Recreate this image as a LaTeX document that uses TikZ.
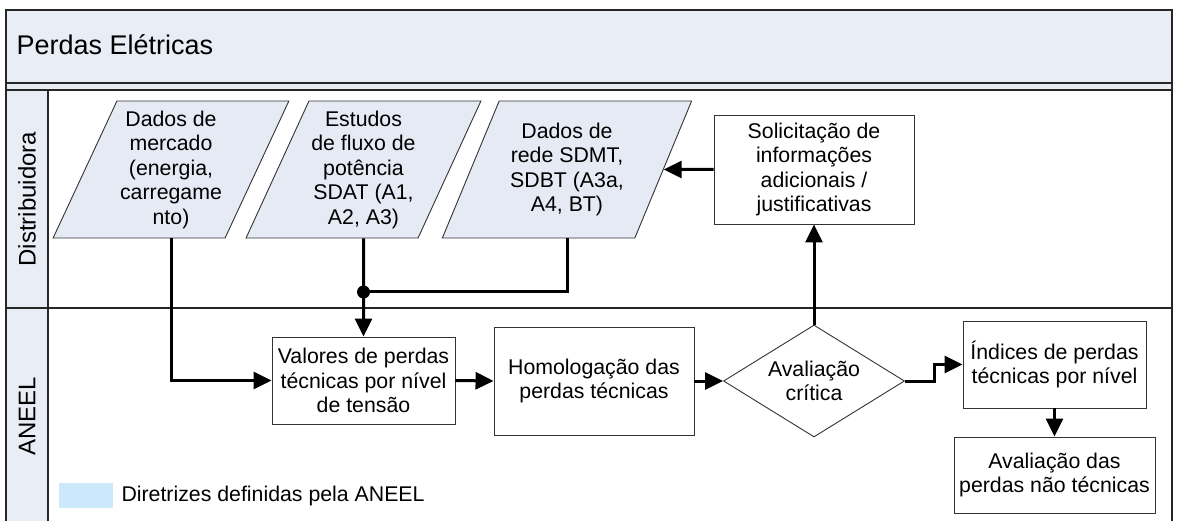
\documentclass[tikz,border=0pt]{standalone}
\usepackage{fontspec}
\setmainfont{Liberation Sans}
\usetikzlibrary{shapes.geometric,arrows.meta}

\definecolor{paneBlue}{HTML}{E9EDF6}
\definecolor{paraBlue}{HTML}{E6EAF4}
\definecolor{legendBlue}{HTML}{CCE9FB}

\begin{document}
\begin{tikzpicture}[x=1pt,y=-1pt,
    font=\fontsize{21.3}{24.5}\selectfont,
    lane/.style={draw=black!85, line width=1.3pt},
    box/.style={draw=black!80, line width=0.9pt, align=center, inner sep=0pt, fill=white},
    dado/.style={trapezium, trapezium left angle=63, trapezium right angle=117,
      trapezium stretches=true, draw=black!80, line width=0.9pt, fill=paraBlue,
      align=center, inner sep=0pt, minimum height=137pt},
    decisao/.style={diamond, aspect=1.6, draw=black!80, line width=0.9pt, align=center, inner sep=0pt},
    fluxo/.style={line width=3pt, -{Triangle[length=18pt,width=17pt]}}
  ]
  \useasboundingbox (0,0) rectangle (1178,521);
  \clip (0,0) rectangle (1178,521);

  % pool and lanes
  \fill[paneBlue] (6,10) rectangle (1172,90);
  \fill[paneBlue] (6,90) rectangle (48,525);
  \draw[lane] (6,10) rectangle (1172,525);
  \draw[lane] (6,83) -- (1172,83);
  \draw[lane] (6,90) -- (1172,90);
  \draw[lane] (48,90) -- (48,525);
  \draw[lane] (6,308) -- (1172,308);

  \node at (13,45) [anchor=west, font=\fontsize{27}{31}\selectfont] (titulo) {Perdas Elétricas};
  \node at (27,199) [rotate=90, font=\fontsize{24}{27}\selectfont] (distlbl) {Distribuidora};
  \node at (27,416) [rotate=90, font=\fontsize{24}{27}\selectfont] (aneellbl) {ANEEL};

  \node at (171,169.5) [dado, minimum width=236pt] (mercado) {Dados de\\mercado\\(energia,\\carregame\\nto)};
  \node at (363.5,169.5) [dado, minimum width=235pt] (estudos) {Estudos\\de fluxo de\\potência\\SDAT (A1,\\A2, A3)};
  \node at (567,169.5) [dado, minimum width=250pt] (rede) {Dados de\\rede SDMT,\\SDBT (A3a,\\A4, BT)};
  \node at (814,169.5) [box, minimum width=200pt, minimum height=109pt] (solic) {Solicitação de\\informações\\adicionais /\\justificativas};

  \node at (363.5,380.5) [box, minimum width=183pt, minimum height=87pt] (valores) {Valores de perdas\\técnicas por nível\\de tensão};
  \node at (594,381) [box, minimum width=200pt, minimum height=108pt] (homol) {Homologação das\\perdas técnicas};
  \node at (814,381) [decisao, minimum width=181pt, minimum height=112pt] (aval) {Avaliação\\crítica};
  \node at (1054.5,364.5) [box, minimum width=183pt, minimum height=87pt] (indices) {Índices de perdas\\técnicas por nível};
  \node at (1054.5,475) [box, minimum width=201pt, minimum height=76pt] (avalnt) {Avaliação das\\perdas não técnicas};

  \coordinate (junc) at (363.5,292);
  \draw[fluxo] (mercado.south) |- (valores.west);
  \draw[fluxo] (estudos.south) -- (valores.north);
  \draw[line width=3pt] (rede.south) |- (junc);
  \fill (junc) circle (6.5pt);
  \draw[fluxo] (solic.west) -- (rede.east);
  \draw[fluxo] (valores.east) -- (homol.west);
  \draw[fluxo] (homol.east) -- (aval.west);
  \draw[fluxo] (aval.north) -- (solic.south);
  \draw[fluxo] (aval.east) -- ++(30,0) |- (indices.west);
  \draw[fluxo] (indices.south) -- (avalnt.north);

  \fill[legendBlue] (59,483) rectangle (113,508);
  \node at (118,495.5) [anchor=west] (legenda) {Diretrizes definidas pela ANEEL};
\end{tikzpicture}
\end{document}
